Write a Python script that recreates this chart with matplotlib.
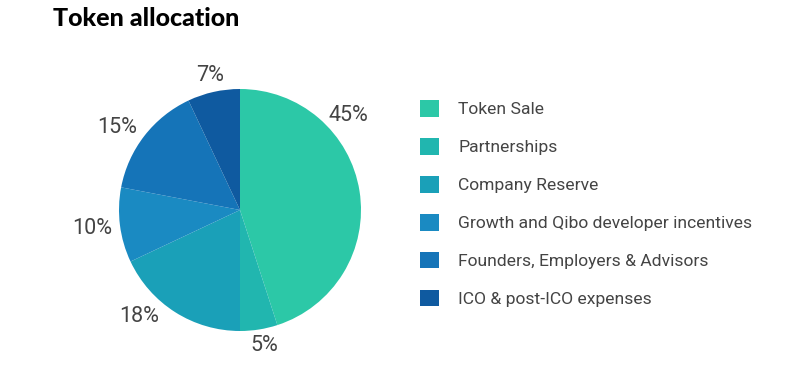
import numpy as np
import matplotlib.pyplot as plt

# token allocation data
categories = ['Token Sale', 'Partnerships', 'Company Reserve',
              'Growth and Qibo developer incentives',
              'Founders, Employers & Advisors', 'ICO & post-ICO expenses']
shares = [45, 5, 18, 10, 15, 7]
colors = ['#2CC8A7', '#21B6AF', '#1AA0B8', '#1A8AC2', '#1574B8', '#0F5AA0']

# label placement tweaks (degrees off the slice middle, radius factor)
label_shift = [32, 1, -11, 0, 4, 0]
label_dist = [1.19, 1.14, 1.21, 1.23, 1.22, 1.14]

W, H = 787, 378
fig = plt.figure(figsize=(W / 100, H / 100), dpi=100)

cx, cy, r = 240, 210, 121
ax = fig.add_axes([(cx - r) / W, (H - cy - r) / H, 2 * r / W, 2 * r / H])
wedges, _ = ax.pie(shares, colors=colors, startangle=90, counterclock=False,
                   radius=1, wedgeprops=dict(linewidth=0))
ax.set_xlim(-1, 1)
ax.set_ylim(-1, 1)
ax.set_aspect('equal')
ax.axis('off')

for w, val, sh, d in zip(wedges, shares, label_shift, label_dist):
    ang = np.deg2rad((w.theta1 + w.theta2) / 2 + sh)
    ax.text(d * np.cos(ang), d * np.sin(ang), f'{val}%', ha='center', va='center',
            fontsize=15.5, color='#444444', family='Roboto', clip_on=False)

fig.legend(wedges, categories, loc='upper left',
           bbox_to_anchor=(420 / W, 1 - 100 / H), frameon=False,
           prop={'family': 'Roboto', 'size': 12.6}, labelcolor='#444444',
           handlelength=1.09, handleheight=1.09, handletextpad=1.09,
           labelspacing=1.18, borderpad=0, borderaxespad=0)

fig.text(53 / W, 1 - 18 / H, 'Token allocation', ha='left', va='center',
         fontsize=18, fontweight='black', family='Lato', color='black')

fig.savefig('out.png', dpi=100)
